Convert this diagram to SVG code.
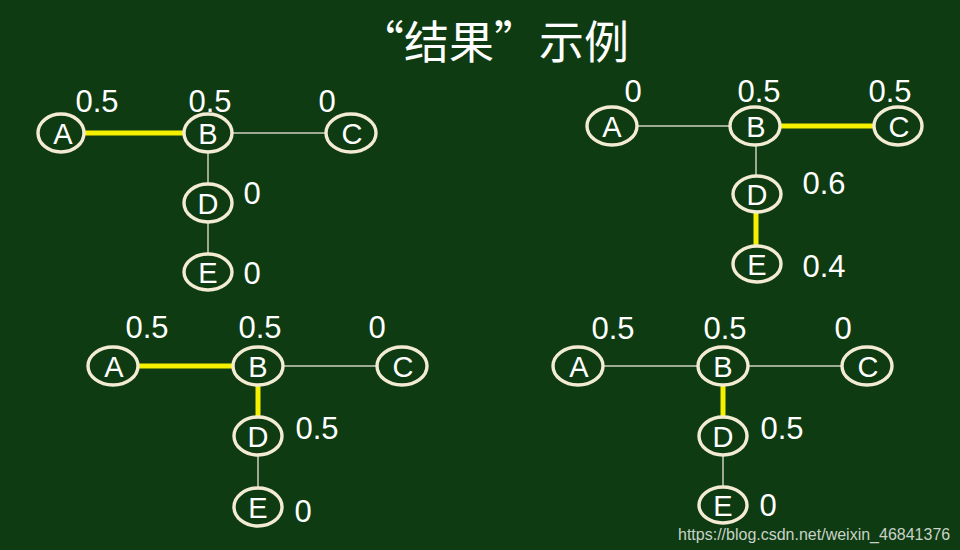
<svg xmlns="http://www.w3.org/2000/svg" width="960" height="550" viewBox="0 0 960 550">
<style>
.bg{fill:#0e3b11}
.node ellipse{fill:#0e3b11;stroke:#f3ecd2;stroke-width:3.4}
.node text{font-family:"Liberation Sans",Arial,sans-serif;font-size:29px;fill:#ffffff;text-anchor:middle}
.val{font-family:"Liberation Sans",Arial,sans-serif;font-size:31px;fill:#ffffff;text-anchor:middle}
.thin{stroke:#cfcfc0;stroke-width:1.5;fill:none}
.hl{stroke:#f5f000;stroke-width:5;fill:none}
.title{font-family:"Noto Sans CJK SC","Noto Sans",sans-serif;font-size:45px;fill:#ffffff;text-anchor:middle}
.wm{font-family:"Liberation Sans",Arial,sans-serif;font-size:16px;fill:#c8d2c8}
</style>
<rect class="bg" x="0" y="0" width="960" height="550"/>
<text class="title" x="494" y="59">“结果”示例</text>

<g id="connectors">
  <!-- graph 1 -->
  <line class="hl" x1="84" y1="133" x2="184" y2="133"/>
  <line class="thin" x1="231" y1="133" x2="327" y2="133"/>
  <line class="thin" x1="208" y1="152" x2="208" y2="185"/>
  <line class="thin" x1="208" y1="222" x2="208" y2="254"/>
  <!-- graph 2 -->
  <line class="thin" x1="636" y1="126" x2="731" y2="126"/>
  <line class="hl" x1="779" y1="126" x2="875" y2="126"/>
  <line class="thin" x1="756" y1="145" x2="756" y2="176"/>
  <line class="hl" x1="756" y1="212" x2="756" y2="246"/>
  <!-- graph 3 -->
  <line class="hl" x1="137" y1="366" x2="234" y2="366"/>
  <line class="thin" x1="282" y1="366" x2="378" y2="366"/>
  <line class="hl" x1="258" y1="385" x2="258" y2="418"/>
  <line class="thin" x1="258" y1="455" x2="258" y2="489"/>
  <!-- graph 4 -->
  <line class="thin" x1="602" y1="366" x2="699" y2="366"/>
  <line class="thin" x1="747" y1="366" x2="843" y2="366"/>
  <line class="hl" x1="723" y1="385" x2="723" y2="418"/>
  <line class="thin" x1="723" y1="455" x2="723" y2="488"/>
</g>

<!-- graph 1 -->
<g id="g1-A" class="node"><ellipse cx="61" cy="133" rx="23" ry="19"/><text x="63" y="144">A</text></g>
<g id="g1-B" class="node"><ellipse cx="208" cy="133" rx="24" ry="19"/><text x="208" y="144">B</text></g>
<g id="g1-C" class="node"><ellipse cx="351" cy="133" rx="25" ry="19"/><text x="352" y="144">C</text></g>
<g id="g1-D" class="node"><ellipse cx="208" cy="203" rx="24" ry="19"/><text x="208" y="214">D</text></g>
<g id="g1-E" class="node"><ellipse cx="208" cy="272" rx="24" ry="18"/><text x="208" y="283">E</text></g>
<text class="val" x="97" y="112">0.5</text>
<text class="val" x="210" y="112">0.5</text>
<text class="val" x="327" y="112">0</text>
<text class="val" x="252" y="204">0</text>
<text class="val" x="252" y="284">0</text>

<!-- graph 2 -->
<g id="g2-A" class="node"><ellipse cx="612" cy="126" rx="25" ry="19"/><text x="612" y="137">A</text></g>
<g id="g2-B" class="node"><ellipse cx="755" cy="126" rx="25" ry="19"/><text x="756" y="137">B</text></g>
<g id="g2-C" class="node"><ellipse cx="898" cy="126" rx="24" ry="19"/><text x="899" y="137">C</text></g>
<g id="g2-D" class="node"><ellipse cx="757" cy="194" rx="24" ry="18"/><text x="757" y="205">D</text></g>
<g id="g2-E" class="node"><ellipse cx="757" cy="264" rx="24" ry="18"/><text x="757" y="275">E</text></g>
<text class="val" x="633" y="102">0</text>
<text class="val" x="759" y="102">0.5</text>
<text class="val" x="890" y="102">0.5</text>
<text class="val" x="824" y="194">0.6</text>
<text class="val" x="824" y="277">0.4</text>

<!-- graph 3 -->
<g id="g3-A" class="node"><ellipse cx="113" cy="366" rx="25" ry="19"/><text x="114" y="377">A</text></g>
<g id="g3-B" class="node"><ellipse cx="258" cy="366" rx="25" ry="19"/><text x="258" y="377">B</text></g>
<g id="g3-C" class="node"><ellipse cx="402" cy="366" rx="25" ry="19"/><text x="403" y="377">C</text></g>
<g id="g3-D" class="node"><ellipse cx="258" cy="436" rx="24" ry="19"/><text x="258" y="447">D</text></g>
<g id="g3-E" class="node"><ellipse cx="258" cy="507" rx="24" ry="19"/><text x="258" y="518">E</text></g>
<text class="val" x="147" y="338">0.5</text>
<text class="val" x="260" y="338">0.5</text>
<text class="val" x="377" y="338">0</text>
<text class="val" x="317" y="439">0.5</text>
<text class="val" x="303" y="522">0</text>

<!-- graph 4 -->
<g id="g4-A" class="node"><ellipse cx="578" cy="366" rx="25" ry="19"/><text x="579" y="377">A</text></g>
<g id="g4-B" class="node"><ellipse cx="723" cy="366" rx="25" ry="19"/><text x="723" y="377">B</text></g>
<g id="g4-C" class="node"><ellipse cx="867" cy="366" rx="25" ry="19"/><text x="868" y="377">C</text></g>
<g id="g4-D" class="node"><ellipse cx="723" cy="436" rx="24" ry="19"/><text x="723" y="447">D</text></g>
<g id="g4-E" class="node"><ellipse cx="723" cy="505" rx="24" ry="18"/><text x="723" y="516">E</text></g>
<text class="val" x="613" y="339">0.5</text>
<text class="val" x="725" y="339">0.5</text>
<text class="val" x="843" y="339">0</text>
<text class="val" x="782" y="439">0.5</text>
<text class="val" x="768" y="516">0</text>

<text class="wm" x="678" y="540">https://blog.csdn.net/weixin_46841376</text>
</svg>
